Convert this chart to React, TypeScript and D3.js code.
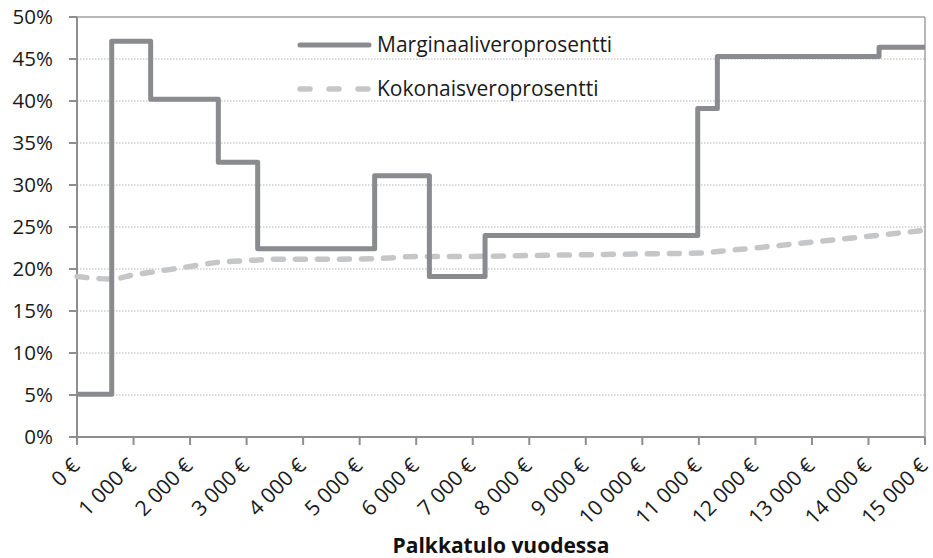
import React from "react";
import * as d3 from "d3";

const W = 933;
const H = 558;

// Marginal tax rate: step starts (€) and rates (%)
const stepStarts = [0, 614, 1303, 2500, 3196, 5265, 6233, 7218, 10980, 11327, 14187];
const marginalRates = [5.1, 47.1, 40.2, 32.7, 22.4, 31.1, 19.1, 24.0, 39.1, 45.3, 46.4];

// Total tax rate (%) at incomes (€)
const totalIncome = [0, 614, 1000, 1500, 2000, 2500, 3000, 3500, 4000, 5000, 5500, 6000, 6500, 7000, 8000, 9000, 10000, 11000, 11500, 12000, 13000, 14000, 15000];
const totalRates = [19.1, 18.8, 19.3, 19.8, 20.3, 20.8, 21.0, 21.15, 21.15, 21.2, 21.3, 21.5, 21.5, 21.5, 21.6, 21.7, 21.8, 21.9, 22.2, 22.5, 23.2, 23.9, 24.6];

const xTicks = [0, 1000, 2000, 3000, 4000, 5000, 6000, 7000, 8000, 9000, 10000, 11000, 12000, 13000, 14000, 15000];
const yTicks = [0, 5, 10, 15, 20, 25, 30, 35, 40, 45, 50];

const seriesNames = ["Marginaaliveroprosentti", "Kokonaisveroprosentti"];
const xTitle = "Palkkatulo vuodessa";

const FONT = "'Open Sans', 'Noto Sans', sans-serif";
const solidColor = "#8a8b8e";
const dashColor = "#c5c6c8";
const axisColor = "#8e8e8e";

function fmtEuro(v: number): string {
  const s = String(v);
  const parts: string[] = [];
  let rest = s;
  while (rest.length > 3) {
    parts.unshift(rest.slice(-3));
    rest = rest.slice(0, -3);
  }
  parts.unshift(rest);
  return parts.join("\u00a0") + "\u00a0€";
}

export default function App() {
  const left = 77, right = 925, top = 17, bottom = 437;
  const x = d3.scaleLinear().domain([0, 15000]).range([left, right]);
  const y = d3.scaleLinear().domain([0, 50]).range([bottom, top]);

  const stepPts: [number, number][] = stepStarts.map((s, i) => [s, marginalRates[i]]);
  stepPts.push([15000, marginalRates[marginalRates.length - 1]]);
  const stepLine = d3
    .line<[number, number]>()
    .x((d) => x(d[0]))
    .y((d) => y(d[1]))
    .curve(d3.curveStepAfter);

  const totPts: [number, number][] = totalIncome.map((v, i) => [v, totalRates[i]]);
  const totLine = d3
    .line<[number, number]>()
    .x((d) => x(d[0]))
    .y((d) => y(d[1]))
    .curve(d3.curveMonotoneX);

  return (
    <svg
      width={W}
      height={H}
      style={{ position: "absolute", left: 0, top: 0, background: "#fff" }}
      fontFamily={FONT}
    >
      {/* gridlines */}
      {yTicks.filter((t) => t > 0 && t < 50).map((t) => (
        <line
          key={"g" + t}
          x1={left}
          x2={right}
          y1={y(t)}
          y2={y(t)}
          stroke="#b5b5b5"
          strokeWidth={1}
          strokeDasharray="1.5 1.5"
        />
      ))}
      {/* border top/right */}
      <line x1={left} x2={right} y1={top} y2={top} stroke="#a0a0a0" strokeWidth={1.5} />
      <line x1={right} x2={right} y1={top} y2={bottom} stroke="#a0a0a0" strokeWidth={1.5} />
      {/* y axis */}
      <line x1={left} x2={left} y1={top} y2={bottom} stroke={axisColor} strokeWidth={2} />
      {yTicks.map((t) => (
        <g key={"y" + t}>
          <line x1={left - 8} x2={left} y1={y(t)} y2={y(t)} stroke={axisColor} strokeWidth={2} />
          <text x={53} y={y(t)} dy="0.35em" textAnchor="end" fontSize={20.5} fill="#1a1a1a">
            {t + "%"}
          </text>
        </g>
      ))}
      {/* x axis */}
      <line x1={left - 8} x2={right} y1={bottom} y2={bottom} stroke={axisColor} strokeWidth={2} />
      {xTicks.map((t) => (
        <g key={"x" + t}>
          <line x1={x(t)} x2={x(t)} y1={bottom} y2={bottom + 8} stroke={axisColor} strokeWidth={2} />
          <text
            transform={`translate(${x(t) + 4},${bottom + 30}) rotate(-45)`}
            textAnchor="end"
            fontSize={21}
            fill="#1a1a1a"
          >
            {fmtEuro(t)}
          </text>
        </g>
      ))}
      <text x={(left + right) / 2} y={553} textAnchor="middle" fontSize={21} fontWeight="bold" fill="#111">
        {xTitle}
      </text>

      {/* series */}
      <path
        d={totLine(totPts) || ""}
        fill="none"
        stroke={dashColor}
        strokeWidth={5.5}
        strokeLinecap="round"
        strokeDasharray="10 12"
      />
      <path
        d={stepLine(stepPts) || ""}
        fill="none"
        stroke={solidColor}
        strokeWidth={5}
        strokeLinejoin="round"
      />

      {/* legend */}
      <line x1={300} x2={369} y1={45} y2={45} stroke={solidColor} strokeWidth={5} strokeLinecap="round" />
      <text x={377} y={45} dy="0.35em" fontSize={21} fill="#1a1a1a">
        {seriesNames[0]}
      </text>
      <line
        x1={300}
        x2={369}
        y1={89}
        y2={89}
        stroke={dashColor}
        strokeWidth={5.5}
        strokeLinecap="round"
        strokeDasharray="10 19"
      />
      <text x={377} y={89} dy="0.35em" fontSize={21} fill="#1a1a1a">
        {seriesNames[1]}
      </text>
    </svg>
  );
}
